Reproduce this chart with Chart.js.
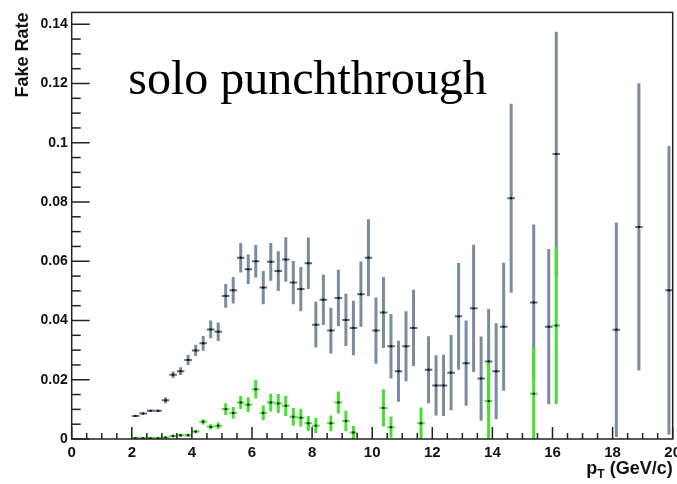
<!DOCTYPE html>
<html><head><meta charset="utf-8">
<script src="https://cdn.jsdelivr.net/npm/chart.js@4.4.1/dist/chart.umd.min.js"></script>
<style>html,body{margin:0;padding:0;overflow:hidden;background:#fff;width:677px;height:484px}canvas{display:block}</style>
</head><body><canvas id="c" width="690" height="484"></canvas>
<script>
// ---- data ----
const binHalfWidth = 0.125;
const grayPt = [2.125,2.375,2.625,2.875,3.125,3.375,3.625,3.875,4.125,4.375,4.625,4.875,5.125,5.375,5.625,5.875,6.125,6.375,6.625,6.875,7.125,7.375,7.625,7.875,8.125,8.375,8.625,8.875,9.125,9.375,9.625,9.875,10.125,10.375,10.625,10.875,11.125,11.375,11.875,12.125,12.375,12.625,12.875,13.125,13.375,13.625,13.875,14.125,14.375,14.625,15.375,15.875,16.125,18.125,18.875,19.875];
const grayRate = [0.0078,0.0086,0.0095,0.0095,0.0131,0.0217,0.0229,0.0267,0.0299,0.0323,0.0370,0.0362,0.0483,0.0502,0.0612,0.0573,0.0600,0.0511,0.0598,0.0567,0.0606,0.0528,0.0506,0.0593,0.0386,0.0470,0.0366,0.0476,0.0402,0.0375,0.0489,0.0612,0.0366,0.0427,0.0313,0.0229,0.0313,0.0375,0.0234,0.0181,0.0181,0.0224,0.0414,0.0256,0.0441,0.0204,0.0262,0.0229,0.0379,0.0813,0.0461,0.0379,0.0962,0.0369,0.0716,0.0502];
const grayErr = [0.0003,0.0003,0.0004,0.0004,0.0010,0.0011,0.0013,0.0017,0.0019,0.0025,0.0030,0.0031,0.0040,0.0045,0.0050,0.0050,0.0055,0.0056,0.0064,0.0067,0.0075,0.0073,0.0075,0.0087,0.0077,0.0085,0.0077,0.0095,0.0088,0.0092,0.0110,0.0130,0.0112,0.0120,0.0109,0.0103,0.0118,0.0129,0.0113,0.0102,0.0103,0.0127,0.0180,0.0144,0.0215,0.0142,0.0177,0.0162,0.0216,0.0319,0.0263,0.0262,0.0413,0.0362,0.0485,0.0487];
const greenPt = [2.125,2.375,2.625,2.875,3.125,3.375,3.625,3.875,4.125,4.375,4.625,4.875,5.125,5.375,5.625,5.875,6.125,6.375,6.625,6.875,7.125,7.375,7.625,7.875,8.125,8.625,8.875,9.125,9.375,10.375,10.625,11.625,13.875,15.375,16.125];
const greenRate = [0.0003,0.0003,0.0003,0.0003,0.0005,0.0010,0.0013,0.0013,0.0025,0.0058,0.0041,0.0045,0.0101,0.0088,0.0123,0.0116,0.0168,0.0088,0.0123,0.0120,0.0112,0.0075,0.0072,0.0053,0.0045,0.0053,0.0123,0.0061,0.0022,0.0105,0.0040,0.0053,0.0128,0.0153,0.0383];
const greenErr = [0.0002,0.0002,0.0002,0.0002,0.0003,0.0004,0.0005,0.0005,0.0006,0.0009,0.0009,0.0011,0.0020,0.0020,0.0022,0.0025,0.0031,0.0025,0.0030,0.0032,0.0034,0.0030,0.0030,0.0025,0.0026,0.0026,0.0037,0.0034,0.0022,0.0063,0.0036,0.0053,0.0130,0.0157,0.0265];
const xTicks = [0,2,4,6,8,10,12,14,16,18,20];
const yTicks = [0,0.02,0.04,0.06,0.08,0.1,0.12,0.14];
const xMinorStep = 0.5, yMinorStep = 0.005;
const annotationText = 'solo punchthrough';
// ----------------------------------------

const GRAY = 'rgb(122,140,158)', GRAY_H = 'rgb(92,108,126)', GREEN = 'rgb(72,222,52)';
const pts = (xs, ys, es) => xs.map((v,i)=>({x:v, y:ys[i], e:es[i]}));

const errPlugin = {
  id:'errbars',
  beforeDatasetsDraw(chart){
    const {ctx, chartArea:a, scales:{x,y}} = chart;
    ctx.save();
    ctx.beginPath(); ctx.rect(a.left,a.top,a.right-a.left,a.bottom-a.top); ctx.clip();
    chart.data.datasets.forEach(ds=>{
      ds.data.forEach(p=>{
        const px = x.getPixelForValue(p.x), py = y.getPixelForValue(p.y);
        ctx.strokeStyle = ds.errColor;
        ctx.lineWidth = 3;
        ctx.beginPath();
        ctx.moveTo(px, y.getPixelForValue(p.y - p.e));
        ctx.lineTo(px, y.getPixelForValue(p.y + p.e));
        ctx.stroke();
        ctx.strokeStyle = ds.errColorH;
        ctx.lineWidth = 2;
        ctx.beginPath();
        ctx.moveTo(x.getPixelForValue(p.x - binHalfWidth), py);
        ctx.lineTo(x.getPixelForValue(p.x + binHalfWidth), py);
        ctx.stroke();
      });
    });
    ctx.restore();
  },
  afterDraw(chart){
    const {ctx, chartArea:a, scales:{x,y}} = chart;
    ctx.save();
    ctx.strokeStyle = '#222'; ctx.lineWidth = 1.5;
    ctx.strokeRect(a.left, a.top, a.right-a.left, a.bottom-a.top);
    for (let v = 0; v <= y.max + 1e-9; v += yMinorStep) {
      const major = yTicks.some(t=>Math.abs(t-v)<1e-6);
      const py = y.getPixelForValue(v);
      ctx.beginPath(); ctx.moveTo(a.left, py); ctx.lineTo(a.left + (major?18:9), py); ctx.stroke();
    }
    for (let v = 0; v <= x.max + 1e-9; v += xMinorStep) {
      const major = xTicks.some(t=>Math.abs(t-v)<1e-6);
      const px = x.getPixelForValue(v);
      ctx.beginPath(); ctx.moveTo(px, a.bottom); ctx.lineTo(px, a.bottom - (major?12:6)); ctx.stroke();
    }
    ctx.fillStyle = '#000';
    ctx.font = '48px "Liberation Serif"';
    ctx.textBaseline = 'alphabetic'; ctx.textAlign = 'left';
    ctx.fillText(annotationText, a.left + 56.5, a.top + 82);
    const big = 'bold 18px "Liberation Sans"', small = 'bold 12px "Liberation Sans"';
    ctx.fillStyle = '#111';
    ctx.font = big; const wp = ctx.measureText('p').width, wr = ctx.measureText(' (GeV/c)').width;
    ctx.font = small; const wt = ctx.measureText('T').width;
    let sx = a.right - (wp + wt + wr);
    const base = a.bottom + 35;
    ctx.font = big; ctx.fillText('p', sx, base); sx += wp;
    ctx.font = small; ctx.fillText('T', sx, base + 4); sx += wt;
    ctx.font = big; ctx.fillText(' (GeV/c)', sx, base);
    ctx.restore();
  }
};

new Chart(document.getElementById('c'), {
  type:'scatter',
  data:{datasets:[
    {label:'all', data:pts(grayPt, grayRate, grayErr), errColor:GRAY, errColorH:GRAY_H, pointRadius:1.2, pointBackgroundColor:'#111', pointBorderWidth:0},
    {label:'solo', data:pts(greenPt, greenRate, greenErr), errColor:GREEN, errColorH:GREEN, pointRadius:1.2, pointBackgroundColor:'#111', pointBorderWidth:0}
  ]},
  options:{
    responsive:false, animation:false,
    layout:{padding:{left:0, top:10, right:17.3, bottom:0}},
    plugins:{legend:{display:false}, tooltip:{enabled:false}},
    scales:{
      x:{type:'linear', min:0, max:20,
        afterBuildTicks:s=>{s.ticks = xTicks.map(v=>({value:v}));},
        afterFit:s=>{s.height = 45;},
        grid:{display:false, drawTicks:false}, border:{display:false},
        ticks:{padding:5, color:'#111', maxRotation:0, autoSkip:false,
          font:{family:'"Liberation Sans"', weight:'bold', size:15}, callback:v=>String(v)}},
      y:{type:'linear', min:0, max:0.144,
        afterBuildTicks:s=>{s.ticks = yTicks.map(v=>({value:v}));},
        afterFit:s=>{s.width = 71.7;},
        grid:{display:false, drawTicks:false}, border:{display:false},
        ticks:{padding:4, color:'#111', autoSkip:false,
          font:{family:'"Liberation Sans"', weight:'bold', size:14}, callback:v=>String(+v.toFixed(3))},
        title:{display:true, text:'Fake Rate', align:'end', color:'#111',
          font:{family:'"Liberation Sans"', weight:'bold', size:18}, padding:{top:12, bottom:0}}}
    }
  },
  plugins:[errPlugin]
});
</script></body></html>
